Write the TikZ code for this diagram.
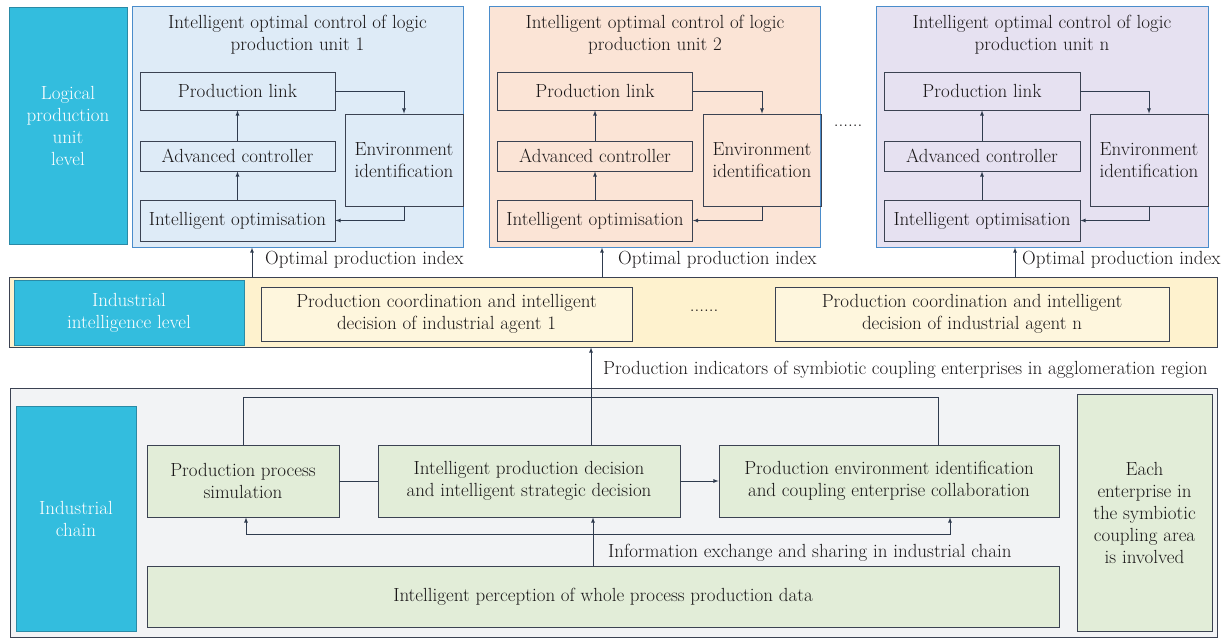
\documentclass[tikz,border=0pt]{standalone}
\usepackage{tikz}
\definecolor{cyanbox}{HTML}{33BDDE}
\definecolor{cyanline}{HTML}{2A8AA6}
\definecolor{unitline}{HTML}{4A8CCB}
\definecolor{unitblue}{HTML}{DEEBF7}
\definecolor{unitpeach}{HTML}{FBE4D6}
\definecolor{unitlav}{HTML}{E6E1F1}
\definecolor{bandyellow}{HTML}{FEF2CE}
\definecolor{chaingray}{HTML}{F2F3F5}
\definecolor{boxgreen}{HTML}{E2EDD8}
\definecolor{boxline}{HTML}{3B4252}
\definecolor{arrowcol}{HTML}{2F3B4E}
\definecolor{txtcol}{HTML}{1A1718}

\begin{document}
\begin{tikzpicture}[x=1pt,y=-1pt,>=latex,
    every node/.style={font=\fontsize{19}{22}\selectfont,text=txtcol,align=center,inner sep=0pt},
    levelbox/.style={draw=cyanline,fill=cyanbox,text=white,line width=0.8pt},
    unitbox/.style={draw=unitline,line width=1pt},
    innerbox/.style={draw=boxline,line width=0.8pt},
    link/.style={draw=arrowcol,line width=0.8pt}]
      \useasboundingbox (0,0) rectangle (1225,641);
      % logical production unit level
      \node[levelbox,minimum width=118pt,minimum height=237pt] (lvl) at (68,125.5) {Logical\\production\\unit\\level};
      % unit 1
      \node[unitbox,fill=unitblue,minimum width=331pt,minimum height=241pt] (u1) at (297.5,126.5) {};
      \node (t1) at (297.5,35) {Intelligent optimal control of logic\\production unit 1};
      \node[innerbox,minimum width=195pt,minimum height=38pt] (pl1) at (237.5,91) {Production link};
      \node[innerbox,minimum width=195pt,minimum height=30pt] (ac1) at (237.5,156) {Advanced controller};
      \node[innerbox,minimum width=195pt,minimum height=41pt] (io1) at (237.5,220.5) {Intelligent optimisation};
      \node[innerbox,minimum width=118pt,minimum height=92pt] (env1) at (404,160) {Environment\\identification};
      \draw[link,->] (io1) -- (ac1);
      \draw[link,->] (ac1) -- (pl1);
      \draw[link,->] (pl1.east) -| (env1.north);
      \draw[link,->] (env1.south) |- (io1.east);
      % unit 2
      \node[unitbox,fill=unitpeach,minimum width=331pt,minimum height=241pt] (u2) at (655,126.5) {};
      \node (t2) at (655,35) {Intelligent optimal control of logic\\production unit 2};
      \node[innerbox,minimum width=195pt,minimum height=38pt] (pl2) at (595,91) {Production link};
      \node[innerbox,minimum width=195pt,minimum height=30pt] (ac2) at (595,156) {Advanced controller};
      \node[innerbox,minimum width=195pt,minimum height=41pt] (io2) at (595,220.5) {Intelligent optimisation};
      \node[innerbox,minimum width=118pt,minimum height=92pt] (env2) at (762,160) {Environment\\identification};
      \draw[link,->] (io2) -- (ac2);
      \draw[link,->] (ac2) -- (pl2);
      \draw[link,->] (pl2.east) -| (env2.north);
      \draw[link,->] (env2.south) |- (io2.east);
      \node (dots1) at (848,126) {......};
      % unit n
      \node[unitbox,fill=unitlav,minimum width=332pt,minimum height=241pt] (u3) at (1042,126.5) {};
      \node (t3) at (1042,35) {Intelligent optimal control of logic\\production unit n};
      \node[innerbox,minimum width=196pt,minimum height=38pt] (pl3) at (982,91) {Production link};
      \node[innerbox,minimum width=196pt,minimum height=30pt] (ac3) at (982,156) {Advanced controller};
      \node[innerbox,minimum width=196pt,minimum height=41pt] (io3) at (982,220.5) {Intelligent optimisation};
      \node[innerbox,minimum width=118pt,minimum height=92pt] (env3) at (1149,160) {Environment\\identification};
      \draw[link,->] (io3) -- (ac3);
      \draw[link,->] (ac3) -- (pl3);
      \draw[link,->] (pl3.east) -| (env3.north);
      \draw[link,->] (env3.south) |- (io3.east);
      % industrial intelligence level
      \node[innerbox,fill=bandyellow,minimum width=1208pt,minimum height=70pt] (band) at (613,312) {};
      \node[levelbox,minimum width=230pt,minimum height=65pt] (ilev) at (129,312.5) {Industrial\\intelligence level};
      \node[innerbox,fill=bandyellow!70!white,minimum width=371pt,minimum height=54pt] (ag1) at (446.5,314) {Production coordination and intelligent\\decision of industrial agent 1};
      \node (dots2) at (704,311) {......};
      \node[innerbox,fill=bandyellow!70!white,minimum width=394pt,minimum height=54pt] (agn) at (972,314) {Production coordination and intelligent\\decision of industrial agent n};
      \coordinate (op1) at (252,277);
      \coordinate (op2) at (602,277);
      \coordinate (op3) at (1015,277);
      \draw[link,->] (op1) -- (op1 |- u1.south);
      \draw[link,->] (op2) -- (op2 |- u2.south);
      \draw[link,->] (op3) -- (op3 |- u3.south);
      \node[anchor=west] (opl1) at (265,260) {Optimal production index};
      \node[anchor=west] (opl2) at (618,260) {Optimal production index};
      \node[anchor=west] (opl3) at (1022,260) {Optimal production index};
      % industrial chain
      \node[innerbox,fill=chaingray,minimum width=1207pt,minimum height=249pt] (chain) at (613.5,512.5) {};
      \node[levelbox,minimum width=120pt,minimum height=225pt] (clev) at (76,518.5) {Industrial\\chain};
      \node[innerbox,fill=boxgreen,minimum width=192pt,minimum height=72pt] (pps) at (243,481) {Production process\\simulation};
      \node[innerbox,fill=boxgreen,minimum width=302pt,minimum height=72pt] (ipd) at (529,481) {Intelligent production decision\\and intelligent strategic decision};
      \node[innerbox,fill=boxgreen,minimum width=340pt,minimum height=72pt] (pei) at (889,481) {Production environment identification\\and coupling enterprise collaboration};
      \node[innerbox,fill=boxgreen,minimum width=912pt,minimum height=61pt] (perc) at (603,596.5) {Intelligent perception of whole process production data};
      \node[innerbox,fill=boxgreen,minimum width=135pt,minimum height=237pt] (each) at (1144.5,512.5) {Each\\enterprise in\\the symbiotic\\coupling area\\is involved};
      \draw[link] (pps) -- (ipd);
      \draw[link,->] (ipd) -- (pei);
      \coordinate (loop) at (938,397);
      \draw[link] (pps.north) |- (loop) -- (loop |- pei.north);
      \coordinate (ind) at (591,445);
      \draw[link,->] (ind) -- (ind |- band.south);
      \node[anchor=west] (indl) at (603,370) {Production indicators of symbiotic coupling enterprises in agglomeration region};
      \coordinate (infl) at (246,534);
      \coordinate (infr) at (950,534);
      \draw[link,<->] (infl |- pps.south) -- (infl) -- (infr) -- (infr |- pei.south);
      \coordinate (per) at (593,566);
      \draw[link,->] (per) -- (per |- ipd.south);
      \node[anchor=west] (infol) at (608,553) {Information exchange and sharing in industrial chain};
    \end{tikzpicture}
\end{document}
